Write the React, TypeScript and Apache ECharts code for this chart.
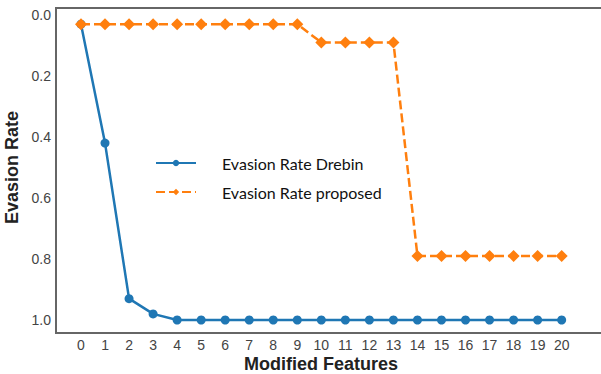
import React, { useEffect, useRef } from "react";
import * as echarts from "echarts";

const features = [0, 1, 2, 3, 4, 5, 6, 7, 8, 9, 10, 11, 12, 13, 14, 15, 16, 17, 18, 19, 20];
const drebin = [0.03, 0.42, 0.93, 0.98, 1.0, 1.0, 1.0, 1.0, 1.0, 1.0, 1.0, 1.0, 1.0, 1.0, 1.0, 1.0, 1.0, 1.0, 1.0, 1.0, 1.0];
const proposed = [0.03, 0.03, 0.03, 0.03, 0.03, 0.03, 0.03, 0.03, 0.03, 0.03, 0.09, 0.09, 0.09, 0.09, 0.79, 0.79, 0.79, 0.79, 0.79, 0.79, 0.79];
const yTicks = [0, 0.2, 0.4, 0.6, 0.8, 1.0];
const seriesNames = ["Evasion Rate Drebin", "Evasion Rate proposed"];
const xTitle = "Modified Features";
const yTitle = "Evasion Rate";

export default function App() {
  const ref = useRef<HTMLDivElement>(null);
  useEffect(() => {
    document.body.style.margin = "0";
    if (!ref.current) return;
    const chart = echarts.init(ref.current, null, { renderer: "svg" });
    chart.setOption({
      animation: false,
      backgroundColor: "#fff",
      grid: {
        left: 56,
        top: 8,
        right: -2,
        bottom: 41,
        show: true,
        borderColor: "#666",
        borderWidth: 2,
        containLabel: false,
        outerBoundsMode: "none",
      },
      legend: {
        orient: "vertical",
        left: 150,
        top: 150,
        itemWidth: 40,
        itemHeight: 8,
        itemGap: 13,
        data: seriesNames,
        textStyle: {
          fontFamily: "Lato",
          fontSize: 16,
          color: "#111",
          padding: [0, 0, 0, 21],
        },
      },
      graphic: [
        {
          type: "text",
          x: 321,
          y: 364,
          style: {
            text: xTitle,
            fontFamily: "Liberation Sans",
            fontSize: 18,
            fontWeight: "bold",
            fill: "#222",
            align: "center",
            verticalAlign: "middle",
          },
        },
      ],
      xAxis: {
        type: "value",
        min: -1.04,
        max: 21.72,
        axisLine: { show: false },
        axisTick: { show: false },
        splitLine: { show: false },
        axisLabel: {
          customValues: features,
          margin: 5,
          fontFamily: "Liberation Sans",
          fontSize: 14,
          color: "#444",
          formatter: (v: number) => String(v),
        },
      },
      yAxis: {
        type: "value",
        inverse: true,
        min: -0.023,
        max: 1.0426,
        name: yTitle,
        nameLocation: "middle",
        nameGap: 31,
        nameTextStyle: {
          fontFamily: "Liberation Sans",
          fontSize: 18,
          fontWeight: "bold",
          color: "#222",
          padding: [0, 0, 0, 6],
        },
        axisLine: { show: false },
        axisTick: { show: false },
        splitLine: { show: false },
        axisLabel: {
          customValues: yTicks,
          margin: 5,
          fontFamily: "Liberation Sans",
          fontSize: 14,
          color: "#444",
          formatter: (v: number) => v.toFixed(1),
        },
      },
      series: [
        {
          name: seriesNames[0],
          type: "line",
          data: features.map((f, i) => [f, drebin[i]]),
          symbol: "circle",
          symbolSize: 9,
          itemStyle: { color: "#1f77b4" },
          lineStyle: { color: "#1f77b4", width: 2.5 },
          z: 3,
        },
        {
          name: seriesNames[1],
          type: "line",
          data: features.map((f, i) => [f, proposed[i]]),
          symbol: "diamond",
          symbolSize: 12,
          itemStyle: { color: "#ff7f0e" },
          lineStyle: { color: "#ff7f0e", width: 2.5, type: [9, 4] },
          z: 4,
        },
      ],
    });
    return () => chart.dispose();
  }, []);
  return <div ref={ref} style={{ width: 601, height: 374 }} />;
}
